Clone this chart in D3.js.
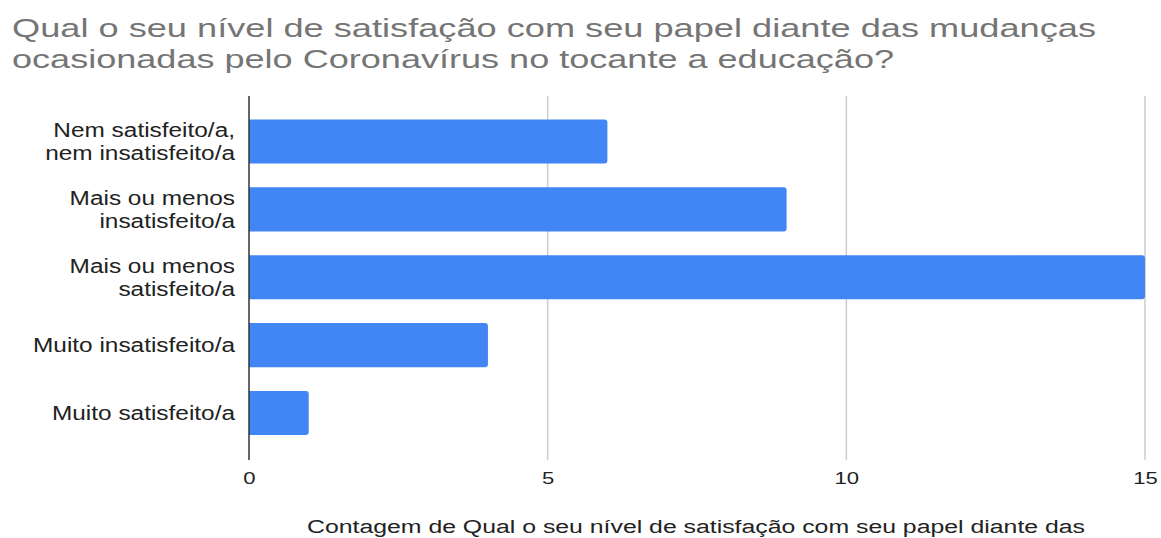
<!DOCTYPE html>
<html>
<head>
<meta charset="utf-8">
<script src="https://cdn.jsdelivr.net/npm/d3@7"></script>
<style>
  html, body { margin: 0; padding: 0; background: #fff; }
  svg { display: block; font-family: "Liberation Sans", Arial, sans-serif; }
</style>
</head>
<body>
<svg id="chart" width="1161" height="538"></svg>
<script>
// Survey answers and their counts
const categories = [
  "Nem satisfeito/a, nem insatisfeito/a",
  "Mais ou menos insatisfeito/a",
  "Mais ou menos satisfeito/a",
  "Muito insatisfeito/a",
  "Muito satisfeito/a"
];
const categoryLines = [
  ["Nem satisfeito/a,", "nem insatisfeito/a"],
  ["Mais ou menos", "insatisfeito/a"],
  ["Mais ou menos", "satisfeito/a"],
  ["Muito insatisfeito/a"],
  ["Muito satisfeito/a"]
];
const counts = [6, 9, 15, 4, 1];
const xTicks = [0, 5, 10, 15];
const titleLines = [
  "Qual o seu nível de satisfação com seu papel diante das mudanças",
  "ocasionadas pelo Coronavírus no tocante a educação?"
];
const xAxisTitle = "Contagem de Qual  o seu nível de satisfação com seu papel diante das";

const svg = d3.select("#chart");

const x = d3.scaleLinear().domain([0, 15]).range([249, 1145]);
const y = d3.scaleBand().domain(categories).range([107.5, 447]).paddingInner(0.35).paddingOuter(0.175);

const plotTop = 96, plotBottom = 460;

// Vertical gridlines
svg.append("g")
  .selectAll("line")
  .data(xTicks.filter(t => t !== 0))
  .join("line")
  .attr("x1", d => x(d)).attr("x2", d => x(d))
  .attr("y1", plotTop).attr("y2", plotBottom)
  .attr("stroke", "#cccccc").attr("stroke-width", 1.5);

// Bars with rounded ends
const r = 3;
svg.append("g")
  .selectAll("path")
  .data(categories)
  .join("path")
  .attr("fill", "#4285f4")
  .attr("d", (c, i) => {
    const x0 = x(0), x1 = x(counts[i]);
    const y0 = y(c), h = y.bandwidth();
    return `M${x0},${y0}H${x1 - r}Q${x1},${y0} ${x1},${y0 + r}V${y0 + h - r}Q${x1},${y0 + h} ${x1 - r},${y0 + h}H${x0}Z`;
  });

// Baseline axis line
svg.append("line")
  .attr("x1", x(0)).attr("x2", x(0))
  .attr("y1", plotTop).attr("y2", plotBottom)
  .attr("stroke", "#333").attr("stroke-width", 1.5);

// Category labels
const labelG = svg.append("g");
categoryLines.forEach((lines, i) => {
  const cy = y(categories[i]) + y.bandwidth() / 2;
  lines.forEach((ln, j) => {
    labelG.append("text")
      .attr("x", 235)
      .attr("y", cy + 7 + (j - (lines.length - 1) / 2) * 22.5)
      .attr("text-anchor", "end")
      .attr("font-size", 19.5)
      .attr("fill", "#222")
      .text(ln);
  });
});

// Tick labels via d3 axis
const axisG = svg.append("g")
  .attr("transform", `translate(0,${460})`)
  .call(d3.axisBottom(x).tickValues(xTicks).tickSize(0).tickPadding(12).tickFormat(d3.format("d")));
axisG.select(".domain").remove();
axisG.attr("font-size", null).attr("font-family", null);
axisG.selectAll("text")
  .attr("font-size", 17)
  .attr("fill", "#222")
  .each(function () {
    const w = this.getComputedTextLength();
    d3.select(this).attr("textLength", w * 1.3).attr("lengthAdjust", "spacingAndGlyphs");
  });

// Title
const title = svg.append("g");
const titleWidths = [1084, 882];
titleLines.forEach((t, i) => {
  title.append("text")
    .attr("x", 12)
    .attr("y", 37 + i * 31)
    .attr("font-size", 26)
    .attr("fill", "#757575")
    .attr("textLength", titleWidths[i])
    .attr("lengthAdjust", "spacingAndGlyphs")
    .text(t);
});

// Horizontal axis title
svg.append("text")
  .attr("x", 307)
  .attr("y", 533)
  .attr("font-size", 18)
  .attr("fill", "#222")
  .attr("textLength", 778)
  .attr("lengthAdjust", "spacingAndGlyphs")
  .text(xAxisTitle);

// Widen category labels to the chart's stretched lettering
const refLabel = labelG.selectAll("text").filter(function () { return this.textContent === "Muito insatisfeito/a"; }).node();
const stretch = 202 / refLabel.getComputedTextLength();
labelG.selectAll("text").each(function () {
  const w = this.getComputedTextLength();
  d3.select(this).attr("textLength", w * stretch).attr("lengthAdjust", "spacingAndGlyphs");
});
</script>
</body>
</html>
